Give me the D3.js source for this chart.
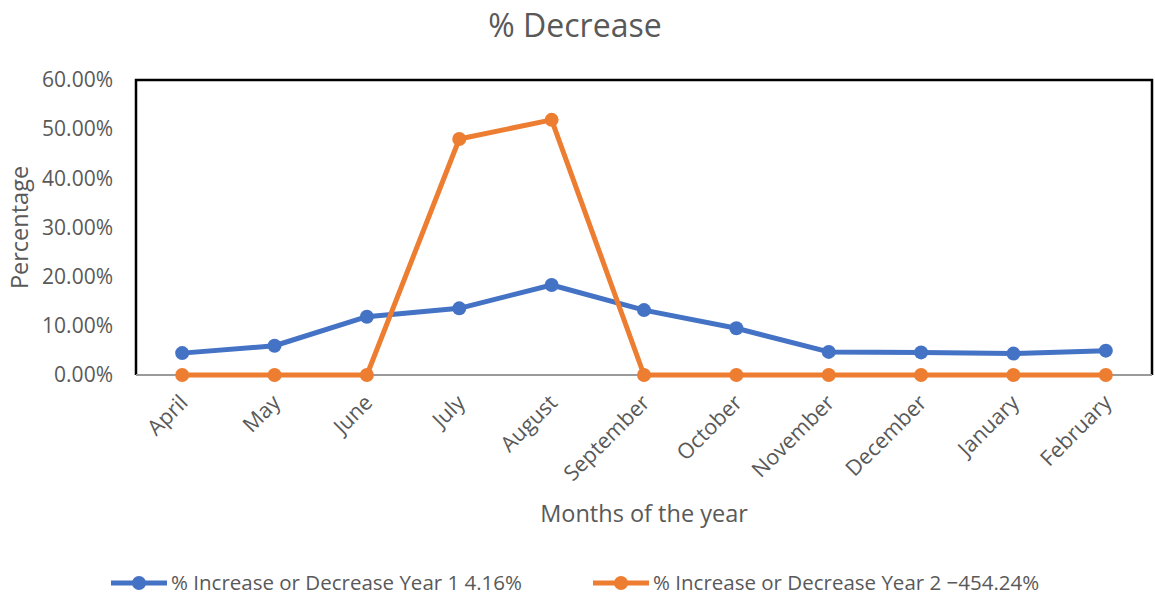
<!DOCTYPE html>
<html>
<head>
<meta charset="utf-8">
<script src="https://cdn.jsdelivr.net/npm/d3@7"></script>
<style>
  html, body { margin: 0; padding: 0; background: #fff; }
  svg { display: block; font-family: "Open Sans", "Noto Sans", sans-serif; }
</style>
</head>
<body>
<svg id="chart" width="1155" height="597"></svg>
<script>
// Monthly percentage change, two years
const months = ["April", "May", "June", "July", "August", "September",
                "October", "November", "December", "January", "February"];
const year1 = [4.45, 5.95, 11.86, 13.56, 18.3, 13.2, 9.5, 4.7, 4.6, 4.35, 4.95];
const year2 = [0, 0, 0, 48.0, 51.9, 0, 0, 0, 0, 0, 0];
const seriesNames = ["% Increase or Decrease Year 1 4.16%",
                     "% Increase or Decrease Year 2 \u2212454.24%"];
const seriesColors = ["#4472C4", "#ED7D31"];
const yTicks = [0, 10, 20, 30, 40, 50, 60];

const svg = d3.select("#chart");
const plot = { left: 136, right: 1152, top: 80, bottom: 375 };
const textColor = "#595959";

const x = d3.scaleBand().domain(months).range([plot.left, plot.right]);
const y = d3.scaleLinear().domain([0, 60]).range([plot.bottom, plot.top]);

// Title
svg.append("text")
  .attr("x", 575).attr("y", 37)
  .attr("text-anchor", "middle")
  .attr("font-size", 32).attr("fill", textColor)
  .text("% Decrease");

// Y axis labels
const yAxis = d3.axisLeft(y).tickValues(yTicks)
  .tickFormat(d => d.toFixed(2) + "%").tickSize(0).tickPadding(23);
const gy = svg.append("g").attr("transform", `translate(${plot.left},0)`).call(yAxis);
gy.select(".domain").remove();
gy.selectAll("text").attr("font-size", 21).attr("fill", textColor)
  .attr("font-family", "Open Sans");

// X axis labels
const xAxis = d3.axisBottom(x).tickSize(0).tickPadding(0);
const gx = svg.append("g").attr("transform", `translate(0,${plot.bottom})`).call(xAxis);
gx.select(".domain").remove();
gx.selectAll("text")
  .attr("font-size", 21.5).attr("fill", textColor).attr("font-family", "Open Sans")
  .attr("text-anchor", "end")
  .attr("dy", null).attr("y", null)
  .attr("transform", "translate(7,29) rotate(-45)");

// Plot frame: black top/left/right, grey category axis along the bottom
svg.append("path")
  .attr("d", `M${plot.left},${plot.bottom}V${plot.top}H${plot.right}V${plot.bottom}`)
  .attr("fill", "none").attr("stroke", "#000").attr("stroke-width", 2.5);
svg.append("line")
  .attr("x1", plot.left).attr("x2", plot.right)
  .attr("y1", plot.bottom).attr("y2", plot.bottom)
  .attr("stroke", "#9a9a9a").attr("stroke-width", 2);

// Axis titles
svg.append("text")
  .attr("transform", `translate(28,${(plot.top + plot.bottom) / 2}) rotate(-90)`)
  .attr("text-anchor", "middle").attr("font-size", 23.5).attr("fill", textColor)
  .text("Percentage");
svg.append("text")
  .attr("x", (plot.left + plot.right) / 2).attr("y", 522)
  .attr("text-anchor", "middle").attr("font-size", 23.5).attr("fill", textColor)
  .text("Months of the year");

// Series lines and markers
const line = d3.line().x((d, i) => x(months[i]) + x.bandwidth() / 2).y(d => y(d));
[year1, year2].forEach((vals, s) => {
  const g = svg.append("g");
  g.append("path").datum(vals)
    .attr("d", line).attr("fill", "none")
    .attr("stroke", seriesColors[s]).attr("stroke-width", 5)
    .attr("stroke-linejoin", "round");
  g.selectAll("circle").data(vals).join("circle")
    .attr("cx", (d, i) => x(months[i]) + x.bandwidth() / 2)
    .attr("cy", d => y(d))
    .attr("r", 7).attr("fill", seriesColors[s]);
});

// Legend
const legendX = [111, 593];
const legendY = 583;
seriesNames.forEach((name, s) => {
  const g = svg.append("g").attr("transform", `translate(${legendX[s]},${legendY})`);
  g.append("line").attr("x1", 0).attr("x2", 56)
    .attr("stroke", seriesColors[s]).attr("stroke-width", 5);
  g.append("circle").attr("cx", 28).attr("r", 7).attr("fill", seriesColors[s]);
  g.append("text").attr("x", 60).attr("dy", "0.35em")
    .attr("font-size", 20.5).attr("fill", textColor).text(name);
});
</script>
</body>
</html>
